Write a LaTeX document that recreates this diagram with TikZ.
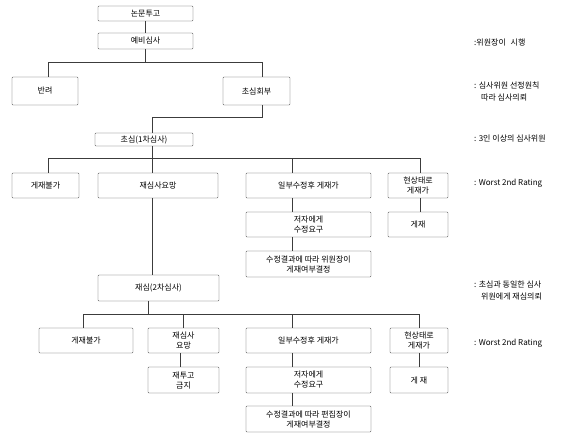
\documentclass[tikz,border=0pt]{standalone}
\usepackage{fontspec}
\setmainfont{Noto Sans CJK KR}
\definecolor{boxline}{RGB}{60,60,60}
\tikzset{box/.style={draw=boxline,rounded corners=.8pt,inner sep=0pt,align=center,
  font=\fontsize{8}{10}\selectfont},
 link/.style={draw=boxline,line width=.8pt},
 note/.style={anchor=west,align=left,inner sep=0pt,font=\fontsize{8}{12}\selectfont}}

\begin{document}
\begin{tikzpicture}[x=1pt,y=-1pt]
\useasboundingbox (0,0) rectangle (574,440);
% first screening
\node[box,minimum width=95,minimum height=15] (tugo) at (145.5,13.5) {논문투고};
\node[box,minimum width=95,minimum height=16] (yebi) at (145.5,41) {예비심사};
\node[box,minimum width=66,minimum height=28] (banryeo) at (45,91) {반려};
\node[box,minimum width=67,minimum height=28] (hoebu) at (256.5,91) {초심회부};
\node[box,minimum width=98,minimum height=13] (chosim) at (144,139.5) {초심(1차심사)};
% results of the first review
\node[box,minimum width=67,minimum height=25] (bulga1) at (45.5,185.5) {게재불가};
\node[box,minimum width=120,minimum height=25] (yomang1) at (158,185.5) {재심사요망};
\node[box,minimum width=125,minimum height=25] (ilbu1) at (308.5,185.5) {일부수정후 게재가};
\node[box,minimum width=60,minimum height=25] (hyeon1) at (418,185.5) {현상태로\\게재가};
\node[box,minimum width=125,minimum height=25] (yogu1) at (308.5,224.5) {저자에게\\수정요구};
\node[box,minimum width=125,minimum height=26] (gyeol1) at (308.5,264) {수정결과에 따라 위원장이\\게재여부결정};
\node[box,minimum width=60,minimum height=25] (gesae1) at (418,224.5) {게재};
\node[box,minimum width=121,minimum height=26] (jaesim) at (158.5,288) {재심(2차심사)};
% results of the second review
\node[box,minimum width=94,minimum height=25] (bulga2) at (86,340.5) {게재불가};
\node[box,minimum width=71,minimum height=25] (yomang2) at (183.5,340.5) {재심사\\요망};
\node[box,minimum width=71,minimum height=26] (geumji) at (183.5,380) {재투고\\금지};
\node[box,minimum width=125,minimum height=25] (ilbu2) at (308.5,340.5) {일부수정후 게재가};
\node[box,minimum width=125,minimum height=26] (yogu2) at (308.5,380) {저자에게\\수정요구};
\node[box,minimum width=125,minimum height=26] (gyeol2) at (308.5,419) {수정결과에 따라 편집장이\\게재여부결정};
\node[box,minimum width=58,minimum height=25] (hyeon2) at (419,340.5) {현상태로\\게재가};
\node[box,minimum width=58,minimum height=26] (gesae2) at (419,380) {게 재};
% bus lines and columns
\coordinate (bus1l) at (48,62);
\coordinate (bus1r) at (262,62);
\coordinate (turn) at (152,117);
\coordinate (bus2l) at (48,158);
\coordinate (bus2r) at (420,158);
\coordinate (col) at (292,0);
\coordinate (drop) at (148,314);
\coordinate (bus3l) at (83,314);
\coordinate (bus3r) at (419,314);
\coordinate (col2) at (183,314);
\coordinate (col3) at (180,0);
\draw[link] (tugo) -- (yebi);
\draw[link] (yebi.south) -- (yebi.south |- bus1l);
\draw[link] (banryeo.north -| bus1l) -- (bus1l) -- (bus1r) -- (hoebu.north -| bus1r);
\draw[link] (hoebu.south -| bus1r) |- (turn) -- (chosim.north -| turn);
\draw[link] (chosim.south -| turn) -- (yomang1.north -| turn);
\draw[link] (bulga1.north -| bus2l) -- (bus2l) -- (bus2r) -- (hyeon1.north -| bus2r);
\draw[link] (ilbu1.north -| col) -- (col |- bus2l);
\draw[link] (ilbu1.south -| col) -- (yogu1.north -| col);
\draw[link] (yogu1.south -| col) -- (gyeol1.north -| col);
\draw[link] (hyeon1.south -| bus2r) -- (gesae1.north -| bus2r);
\draw[link] (yomang1.south -| turn) -- (jaesim.north -| turn);
\draw[link] (jaesim.south -| drop) -- (drop);
\draw[link] (bulga2.north -| bus3l) -- (bus3l) -- (bus3r) -- (hyeon2.north);
\draw[link] (col2) -- (yomang2.north -| col2);
\draw[link] (yomang2.south -| col3) -- (geumji.north -| col3);
\draw[link] (ilbu2.north -| col) -- (col |- bus3l);
\draw[link] (ilbu2.south -| col) -- (yogu2.north -| col);
\draw[link] (yogu2.south -| col) -- (gyeol2.north -| col);
\draw[link] (hyeon2) -- (gesae2);
% notes on the right
\node[note] (n1) at (474,43) {:위원장이\hspace{3pt} 시행};
\node[note] (n2) at (474,91) {: 심사위원 선정원칙\\\hspace{7pt}따라 심사의뢰};
\node[note] (n3) at (474,139) {: 3인 이상의 심사위원};
\node[note] (n4) at (474,183) {: Worst 2nd Rating};
\node[note] (n5) at (474,291) {: 초심과 동일한 심사\\\hspace{7pt}위원에게 재심의뢰};
\node[note] (n6) at (474,343) {: Worst 2nd Rating};
\end{tikzpicture}
\end{document}
